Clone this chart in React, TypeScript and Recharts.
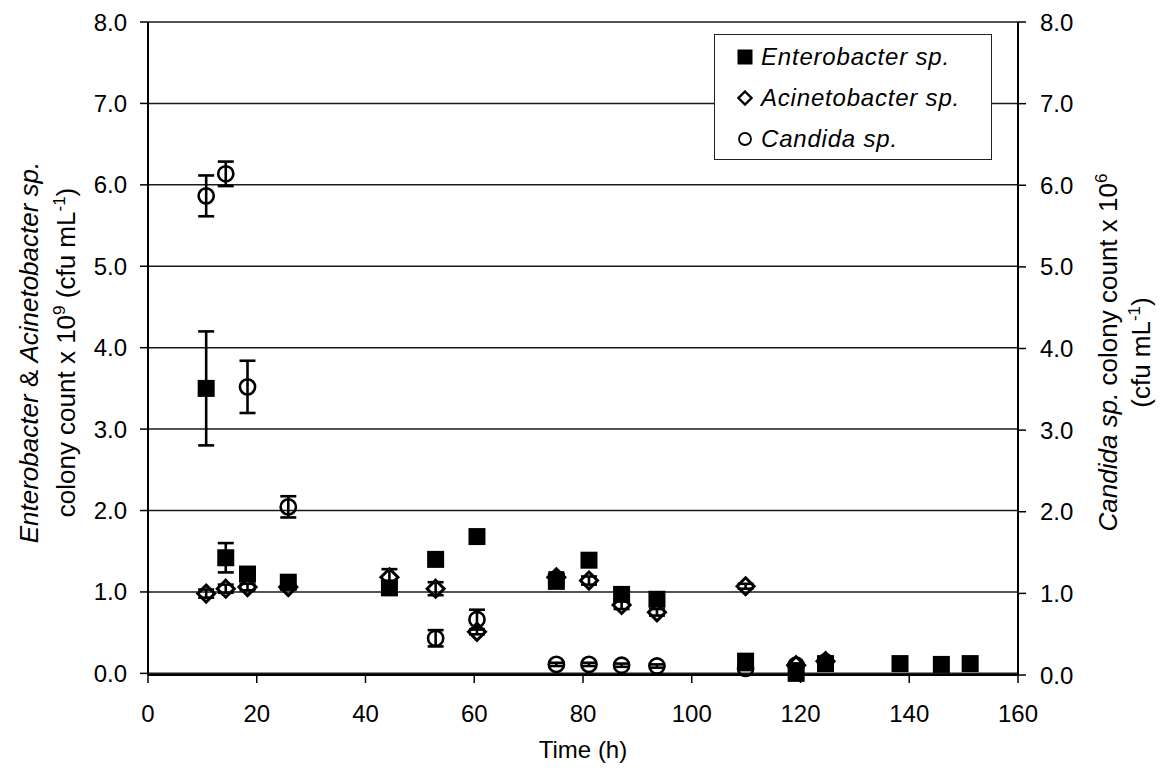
import { ScatterChart, Scatter, XAxis, YAxis, CartesianGrid, ErrorBar, Legend } from 'recharts';

const FONT = '"Liberation Sans", Arial, Helvetica, sans-serif';

// time (h)
const enteroTime = [10.7, 14.3, 18.3, 25.8, 44.4, 52.9, 60.5, 75.1, 81.1, 87.1, 93.6, 109.9, 119.2, 124.6, 138.3, 145.9, 151.2];
const enteroCount = [3.5, 1.42, 1.22, 1.12, 1.05, 1.4, 1.68, 1.13, 1.39, 0.97, 0.91, 0.15, 0.0, 0.12, 0.12, 0.11, 0.12];
const enteroErr = [0.7, 0.18, 0.05, 0.04, 0.03, 0.03, 0.03, 0.03, 0.03, 0.05, 0.05, 0.03, 0.02, 0.03, 0.02, 0.02, 0.02];

const acinetoTime = [10.7, 14.3, 18.3, 25.8, 44.4, 52.9, 60.5, 75.1, 81.1, 87.1, 93.6, 109.9, 119.2, 124.6];
const acinetoCount = [0.98, 1.04, 1.06, 1.06, 1.18, 1.04, 0.51, 1.18, 1.14, 0.84, 0.75, 1.07, 0.1, 0.15];
const acinetoErr = [0.05, 0.05, 0.04, 0.03, 0.1, 0.08, 0.03, 0.06, 0.05, 0.05, 0.04, 0.03, 0.02, 0.02];

const candidaTime = [10.7, 14.3, 18.3, 25.8, 52.9, 60.5, 75.1, 81.1, 87.1, 93.6, 109.9, 119.2, 124.6];
const candidaCount = [5.87, 6.14, 3.53, 2.06, 0.45, 0.68, 0.13, 0.13, 0.12, 0.11, 0.08, 0.12, 0.16];
const candidaErr = [0.25, 0.15, 0.32, 0.13, 0.1, 0.12, 0.02, 0.02, 0.02, 0.02, 0.02, 0.02, 0.02];

const xTicks = [0, 20, 40, 60, 80, 100, 120, 140, 160];
const yTicks = [0, 1, 2, 3, 4, 5, 6, 7, 8];

const toRows = (t: number[], v: number[], e: number[]) => t.map((x, i) => ({ t: x, v: v[i], err: e[i] }));
const enteroData = toRows(enteroTime, enteroCount, enteroErr);
const acinetoData = toRows(acinetoTime, acinetoCount, acinetoErr);
const candidaData = toRows(candidaTime, candidaCount, candidaErr);

const tickStyle = { fill: '#000', fontSize: 24, fontFamily: FONT };

function SquareDot({ cx, cy }: any) {
  if (cx == null || cy == null) return null;
  return <rect x={cx - 8.5} y={cy - 8.5} width={17} height={17} fill="#000" />;
}

function DiamondDot({ cx, cy }: any) {
  if (cx == null || cy == null) return null;
  const r = 8.5;
  return (
    <path
      d={`M${cx},${cy - r}L${cx + r},${cy}L${cx},${cy + r}L${cx - r},${cy}Z`}
      fill="none"
      stroke="#000"
      strokeWidth={3}
    />
  );
}

function CircleDot({ cx, cy }: any) {
  if (cx == null || cy == null) return null;
  return <circle cx={cx} cy={cy} r={7.6} fill="none" stroke="#000" strokeWidth={2.6} />;
}

function LeftTitle({ viewBox }: any) {
  const { x, y, height } = viewBox;
  const cy = y + height / 2 + 4;
  const x1 = x + 38;
  const x2 = x + 75;
  return (
    <g fontFamily={FONT} fontSize={26} fill="#000">
      <text x={x1} y={cy} textAnchor="middle" transform={`rotate(-90 ${x1} ${cy})`}>
        <tspan fontStyle="italic">Enterobacter</tspan>
        <tspan>{' & '}</tspan>
        <tspan fontStyle="italic">Acinetobacter sp.</tspan>
      </text>
      <text x={x2} y={cy} textAnchor="middle" transform={`rotate(-90 ${x2} ${cy})`}>
        <tspan>colony count x 10</tspan>
        <tspan dy={-10} fontSize={17}>9</tspan>
        <tspan dy={10}>{' (cfu mL'}</tspan>
        <tspan dy={-10} fontSize={17}>-1</tspan>
        <tspan dy={10}>)</tspan>
      </text>
    </g>
  );
}

function RightTitle({ viewBox }: any) {
  const { x, y, height } = viewBox;
  const cy = y + height / 2 + 4;
  const x1 = x + 99;
  const x2 = x + 132;
  return (
    <g fontFamily={FONT} fontSize={26} fill="#000">
      <text x={x1} y={cy} textAnchor="middle" transform={`rotate(-90 ${x1} ${cy})`}>
        <tspan fontStyle="italic">Candida sp.</tspan>
        <tspan>{'  colony count x 10'}</tspan>
        <tspan dy={-10} fontSize={17}>6</tspan>
      </text>
      <text x={x2} y={cy} textAnchor="middle" transform={`rotate(-90 ${x2} ${cy})`}>
        <tspan>(cfu mL</tspan>
        <tspan dy={-10} fontSize={17}>-1</tspan>
        <tspan dy={10}>)</tspan>
      </text>
    </g>
  );
}

function BottomTitle({ viewBox }: any) {
  const { x, y, width } = viewBox;
  return (
    <text x={x + width / 2} y={y + 83} textAnchor="middle" fontFamily={FONT} fontSize={24} fill="#000">
      Time (h)
    </text>
  );
}

const legendItems = [
  { name: 'Enterobacter sp.', kind: 'square' },
  { name: 'Acinetobacter sp.', kind: 'diamond' },
  { name: 'Candida sp.', kind: 'circle' },
];

function LegendMarker({ kind }: { kind: string }) {
  return (
    <svg width={16} height={16} style={{ display: 'block' }}>
      {kind === 'square' && <rect x={0.5} y={0.5} width={15} height={15} fill="#000" />}
      {kind === 'diamond' && <path d="M8,1.5L14.5,8L8,14.5L1.5,8Z" fill="none" stroke="#000" strokeWidth={2.4} />}
      {kind === 'circle' && <circle cx={8} cy={8} r={6} fill="none" stroke="#000" strokeWidth={1.8} />}
    </svg>
  );
}

function SeriesLegend() {
  return (
    <div
      style={{
        position: 'relative',
        width: 278,
        height: 126,
        boxSizing: 'border-box',
        border: '1.5px solid #222',
        background: '#fff',
        fontFamily: FONT,
        fontSize: 24,
        fontStyle: 'italic',
        color: '#000',
      }}
    >
      {legendItems.map((item, i) => (
        <div
          key={item.name}
          style={{
            position: 'absolute',
            left: 22,
            top: 22 + i * 41 - 14,
            height: 28,
            display: 'flex',
            alignItems: 'center',
            gap: 8,
            whiteSpace: 'nowrap',
            letterSpacing: 0.8,
          }}
        >
          <LegendMarker kind={item.kind} />
          <span>{item.name}</span>
        </div>
      ))}
    </div>
  );
}

export default function App() {
  return (
    <div style={{ position: 'absolute', left: 0, top: 0, width: 1173, height: 778, background: '#fff' }}>
      <ScatterChart width={1173} height={778} margin={{ top: 22, right: 0, bottom: 0, left: 0 }}>
        <CartesianGrid yAxisId="left" vertical={false} stroke="#1a1a1a" strokeWidth={1.5} />
        <XAxis
          type="number"
          dataKey="t"
          domain={[0, 160]}
          ticks={xTicks}
          interval={0}
          height={103}
          tickSize={8}
          tickMargin={22}
          tick={tickStyle}
          axisLine={{ stroke: '#000', strokeWidth: 2 }}
          tickLine={{ stroke: '#000', strokeWidth: 1.5 }}
          label={<BottomTitle />}
        />
        <YAxis
          yAxisId="left"
          type="number"
          dataKey="v"
          domain={[0, 8]}
          ticks={yTicks}
          interval={0}
          width={148}
          tickSize={8}
          tickMargin={13}
          tick={tickStyle}
          tickFormatter={(v: number) => v.toFixed(1)}
          axisLine={{ stroke: '#000', strokeWidth: 2 }}
          tickLine={{ stroke: '#000', strokeWidth: 1.5 }}
          label={<LeftTitle />}
        />
        <YAxis
          yAxisId="right"
          orientation="right"
          type="number"
          dataKey="v"
          domain={[0, 8]}
          ticks={yTicks}
          interval={0}
          width={155}
          tickSize={8}
          tickMargin={14}
          tick={tickStyle}
          tickFormatter={(v: number) => v.toFixed(1)}
          axisLine={{ stroke: '#000', strokeWidth: 2 }}
          tickLine={{ stroke: '#000', strokeWidth: 1.5 }}
          label={<RightTitle />}
        />
        <Legend
          layout="horizontal"
          verticalAlign="middle"
          align="center"
          content={() => <SeriesLegend />}
          wrapperStyle={{ left: 714, top: 34, width: 278, height: 126 }}
        />
        <Scatter name="Enterobacter sp." data={enteroData} yAxisId="left" shape={SquareDot} isAnimationActive={false}>
          <ErrorBar dataKey="err" direction="y" width={8} stroke="#000" strokeWidth={2.6} />
        </Scatter>
        <Scatter name="Acinetobacter sp." data={acinetoData} yAxisId="left" shape={DiamondDot} isAnimationActive={false}>
          <ErrorBar dataKey="err" direction="y" width={8} stroke="#000" strokeWidth={2.6} />
        </Scatter>
        <Scatter name="Candida sp." data={candidaData} yAxisId="right" shape={CircleDot} isAnimationActive={false}>
          <ErrorBar dataKey="err" direction="y" width={8} stroke="#000" strokeWidth={2.6} />
        </Scatter>
      </ScatterChart>
    </div>
  );
}
